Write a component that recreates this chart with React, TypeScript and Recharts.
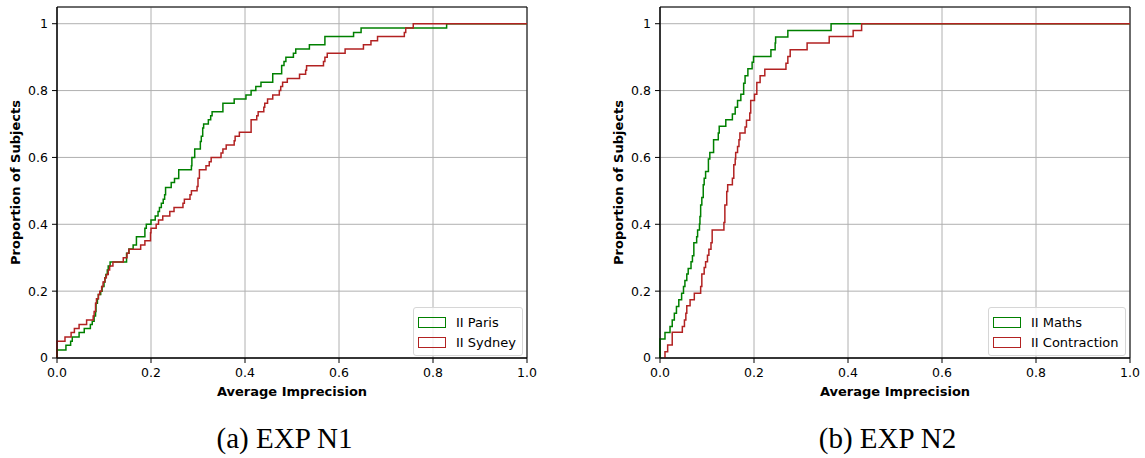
import React from 'react';
import { CartesianGrid, Legend, Line, LineChart, ReferenceArea, XAxis, YAxis } from 'recharts';

// ECDF steps: [imprecision, proportion] at each rise
const parisSteps: [number, number][] = [
  [0, 0], [0, 0.024], [0.019, 0.038], [0.029, 0.05], [0.0325, 0.063], [0.047, 0.076], [0.058, 0.088],
  [0.071, 0.1], [0.075, 0.11], [0.079, 0.126], [0.082, 0.139], [0.083, 0.164], [0.086, 0.177],
  [0.088, 0.19], [0.093, 0.2], [0.096, 0.214], [0.1, 0.227], [0.102, 0.24], [0.104, 0.25],
  [0.107, 0.263], [0.109, 0.275], [0.113, 0.287], [0.148, 0.313], [0.153, 0.326], [0.162, 0.338],
  [0.169, 0.363], [0.187, 0.388], [0.19, 0.4], [0.2, 0.413], [0.209, 0.425], [0.215, 0.438],
  [0.218, 0.45], [0.222, 0.463], [0.226, 0.475], [0.229, 0.488], [0.231, 0.51], [0.243, 0.525],
  [0.25, 0.537], [0.259, 0.563], [0.286, 0.575], [0.287, 0.6], [0.293, 0.625], [0.305, 0.648],
  [0.307, 0.663], [0.31, 0.688], [0.312, 0.7], [0.322, 0.713], [0.327, 0.725], [0.33, 0.737],
  [0.353, 0.762], [0.377, 0.775], [0.402, 0.787], [0.413, 0.8], [0.423, 0.812], [0.434, 0.825],
  [0.459, 0.85], [0.478, 0.875], [0.483, 0.887], [0.487, 0.9], [0.503, 0.912], [0.508, 0.924],
  [0.537, 0.937], [0.57, 0.962], [0.631, 0.974], [0.647, 0.987], [0.829, 1], [1, 1],
];

const sydneySteps: [number, number][] = [
  [0, 0], [0, 0.05], [0.017, 0.063], [0.03, 0.076], [0.037, 0.088], [0.047, 0.1], [0.063, 0.114],
  [0.077, 0.126], [0.079, 0.139], [0.082, 0.164], [0.084, 0.177], [0.088, 0.19], [0.091, 0.2],
  [0.095, 0.214], [0.098, 0.227], [0.102, 0.24], [0.105, 0.25], [0.109, 0.263], [0.112, 0.275],
  [0.119, 0.287], [0.141, 0.3], [0.149, 0.313], [0.153, 0.325], [0.178, 0.338], [0.187, 0.351],
  [0.199, 0.375], [0.2, 0.388], [0.211, 0.4], [0.216, 0.413], [0.225, 0.425], [0.24, 0.438],
  [0.249, 0.45], [0.268, 0.463], [0.271, 0.475], [0.283, 0.488], [0.286, 0.5], [0.298, 0.513],
  [0.3, 0.538], [0.303, 0.563], [0.317, 0.575], [0.324, 0.587], [0.328, 0.6], [0.349, 0.613],
  [0.353, 0.625], [0.36, 0.637], [0.377, 0.65], [0.379, 0.663], [0.388, 0.675], [0.413, 0.713],
  [0.425, 0.725], [0.428, 0.737], [0.44, 0.75], [0.442, 0.762], [0.448, 0.775], [0.459, 0.787],
  [0.473, 0.8], [0.476, 0.812], [0.48, 0.825], [0.49, 0.836], [0.516, 0.849], [0.529, 0.861],
  [0.531, 0.874], [0.567, 0.887], [0.57, 0.9], [0.575, 0.912], [0.613, 0.924], [0.652, 0.937],
  [0.668, 0.949], [0.682, 0.962], [0.739, 0.974], [0.742, 0.987], [0.758, 1], [1, 1],
];

const mathsSteps: [number, number][] = [
  [0, 0], [0, 0.057], [0.0106, 0.076], [0.0213, 0.094], [0.026, 0.114], [0.0305, 0.134],
  [0.035, 0.154], [0.04, 0.174], [0.046, 0.194], [0.05, 0.214], [0.053, 0.232], [0.057, 0.251],
  [0.06, 0.268], [0.066, 0.288], [0.069, 0.306], [0.072, 0.345], [0.078, 0.363], [0.08, 0.383],
  [0.084, 0.401], [0.085, 0.423], [0.0865, 0.458], [0.089, 0.48], [0.092, 0.518], [0.094, 0.538],
  [0.097, 0.558], [0.103, 0.595], [0.106, 0.615], [0.114, 0.653], [0.124, 0.673], [0.126, 0.693],
  [0.14, 0.713], [0.154, 0.73], [0.16, 0.75], [0.165, 0.77], [0.172, 0.789], [0.178, 0.822],
  [0.181, 0.844], [0.187, 0.865], [0.196, 0.885], [0.199, 0.902], [0.236, 0.922], [0.245, 0.942],
  [0.246, 0.96], [0.272, 0.98], [0.364, 1], [1, 1],
];

const contractionSteps: [number, number][] = [
  [0.0106, 0], [0.0106, 0.019], [0.0163, 0.039], [0.026, 0.077], [0.0475, 0.094], [0.052, 0.114],
  [0.055, 0.134], [0.057, 0.156], [0.064, 0.174], [0.073, 0.194], [0.0865, 0.214], [0.089, 0.251],
  [0.094, 0.271], [0.097, 0.288], [0.101, 0.307], [0.104, 0.325], [0.1085, 0.345], [0.111, 0.383],
  [0.136, 0.405], [0.138, 0.458], [0.142, 0.498], [0.144, 0.518], [0.154, 0.538], [0.157, 0.578],
  [0.16, 0.595], [0.161, 0.615], [0.165, 0.633], [0.168, 0.653], [0.17, 0.673], [0.181, 0.691],
  [0.184, 0.711], [0.191, 0.733], [0.193, 0.77], [0.201, 0.789], [0.206, 0.824], [0.213, 0.844],
  [0.223, 0.864], [0.268, 0.882], [0.272, 0.902], [0.277, 0.922], [0.313, 0.942], [0.36, 0.962],
  [0.411, 0.98], [0.429, 1], [1, 1],
];

const xTicks = [0, 0.2, 0.4, 0.6, 0.8, 1];
const yTicks = [0, 0.2, 0.4, 0.6, 0.8, 1];

const GREEN = '#008000';
const RED = '#b22222';
const FONT = '"DejaVu Sans", sans-serif';

type Series = { name: string; color: string; steps: [number, number][] };

const toPoints = (steps: [number, number][]) => steps.map(([x, y]) => ({ x, y }));

const fmtY = (v: number) => (v === 0 ? '0' : v === 1 ? '1' : v.toFixed(1));

const YTitle = (props: any) => {
  const { viewBox } = props;
  const cx = viewBox.x + 15;
  const cy = viewBox.y + viewBox.height / 2;
  return (
    <text
      x={cx}
      y={cy}
      transform={`rotate(-90 ${cx} ${cy})`}
      textAnchor="middle"
      dominantBaseline="central"
      fontFamily={FONT}
      fontWeight="bold"
      fontSize={13}
      fill="#000"
    >
      Proportion of Subjects
    </text>
  );
};

// legend drawn in plotting order with outlined patches, like matplotlib
const LegendBox = ({ series }: { series: Series[] }) => (
  <div
    style={{
      border: '1px solid #d6d6d6',
      borderRadius: 3,
      background: 'rgba(255,255,255,0.8)',
      padding: '4px 6px 3px 4px',
      fontFamily: FONT,
      fontSize: 13,
      color: '#000',
    }}
  >
    {series.map((s) => (
      <div key={s.name} style={{ display: 'flex', alignItems: 'center', height: 20 }}>
        <span
          style={{
            display: 'inline-block',
            boxSizing: 'border-box',
            width: 28,
            height: 11,
            border: `1.5px solid ${s.color}`,
            marginRight: 10,
          }}
        />
        <span>{s.name}</span>
      </div>
    ))}
  </div>
);

type PanelProps = {
  left: number;
  caption: string;
  series: Series[];
  legendLeft: number;
};

const Panel = ({ left, caption, series, legendLeft }: PanelProps) => (
  <div style={{ position: 'absolute', left, top: 0, width: 569, height: 458 }}>
    <LineChart width={542} height={410} margin={{ top: 7, right: 15, bottom: 12, left: 0 }}>
      <CartesianGrid stroke="#b0b0b0" strokeWidth={1} />
      <XAxis
        type="number"
        dataKey="x"
        domain={[0, 1]}
        ticks={xTicks}
        tickFormatter={(v: number) => v.toFixed(1)}
        height={40}
        tickSize={5}
        tickMargin={5}
        stroke="#000"
        tick={{ fill: '#000', fontSize: 12.5, fontFamily: FONT }}
        label={{
          value: 'Average Imprecision',
          position: 'insideBottom',
          offset: 2,
          style: { fontFamily: FONT, fontWeight: 'bold', fontSize: 13, fill: '#000' },
        }}
      />
      <YAxis
        type="number"
        domain={[0, 1.05]}
        ticks={yTicks}
        tickFormatter={fmtY}
        width={57}
        tickSize={5}
        tickMargin={4}
        stroke="#000"
        tick={{ fill: '#000', fontSize: 12.5, fontFamily: FONT }}
        label={<YTitle />}
      />
      <ReferenceArea x1={0} x2={1} y1={0} y2={1.05} stroke="#000" strokeWidth={1} fill="none" fillOpacity={0} />
      {series.map((s) => (
        <Line
          key={s.name}
          data={toPoints(s.steps)}
          dataKey="y"
          name={s.name}
          type="stepAfter"
          stroke={s.color}
          strokeWidth={1.5}
          dot={false}
          activeDot={false}
          isAnimationActive={false}
        />
      ))}
      <Legend
        layout="vertical"
        align="center"
        verticalAlign="middle"
        content={<LegendBox series={series} />}
        wrapperStyle={{ left: legendLeft, top: 307, width: 'auto' }}
      />
    </LineChart>
    <div
      style={{
        position: 'absolute',
        left: 0,
        top: 424,
        width: 569,
        textAlign: 'center',
        fontFamily: '"Liberation Serif", "Times New Roman", serif',
        fontSize: 29,
        lineHeight: '29px',
        color: '#000',
      }}
    >
      {caption}
    </div>
  </div>
);

export default function App() {
  return (
    <div style={{ position: 'absolute', left: 0, top: 0, width: 1145, height: 458, overflow: 'hidden', background: '#fff' }}>
      <Panel
        left={0}
        caption="(a) EXP N1"
        legendLeft={413}
        series={[
          { name: 'II Paris', color: GREEN, steps: parisSteps },
          { name: 'II Sydney', color: RED, steps: sydneySteps },
        ]}
      />
      <Panel
        left={603}
        caption="(b) EXP N2"
        legendLeft={385}
        series={[
          { name: 'II Maths', color: GREEN, steps: mathsSteps },
          { name: 'II Contraction', color: RED, steps: contractionSteps },
        ]}
      />
    </div>
  );
}
